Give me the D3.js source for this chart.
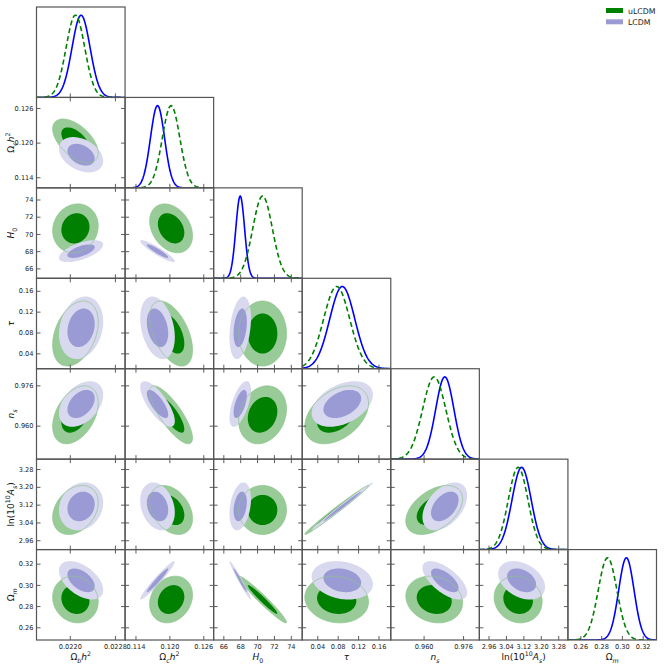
<!DOCTYPE html>
<html><head><meta charset="utf-8">
<script src="https://cdn.jsdelivr.net/npm/d3@7"></script>
<style>body{margin:0;background:#fff} text{font-family:"DejaVu Sans",sans-serif}</style>
</head><body><svg id="c" width="664" height="666"></svg>
<script>
// ---------------- data ----------------
const params = ["omegabh2","omegach2","H0","tau","ns","logA","omegam"];
const axisLabels = [
  [{t:"Ω"},{t:"b",sub:1,it:1},{t:"h",it:1},{t:"2",sup:1}],
  [{t:"Ω"},{t:"c",sub:1,it:1},{t:"h",it:1},{t:"2",sup:1}],
  [{t:"H",it:1},{t:"0",sub:1}],
  [{t:"τ",it:1}],
  [{t:"n",it:1},{t:"s",sub:1,it:1}],
  [{t:"ln(10"},{t:"10",sup:1},{t:"A",it:1},{t:"s",sub:1,it:1},{t:")"}],
  [{t:"Ω"},{t:"m",sub:1,it:1}]
];
const rangeLow  = [0.02141, 0.11216, 64.85, 0.0105, 0.9467, 2.918, 0.2480];
const rangeHigh = [0.02298, 0.12783, 75.35, 0.1840, 0.9826, 3.3245, 0.3333];
const tickValues = [
  [0.0220, 0.0228],
  [0.114, 0.120, 0.126],
  [66, 68, 70, 72, 74],
  [0.04, 0.08, 0.12, 0.16],
  [0.960, 0.976],
  [2.96, 3.04, 3.12, 3.20, 3.28],
  [0.26, 0.28, 0.30, 0.32]
];
const tickFormats = [".4f", ".3f", "d", ".2f", ".3f", ".2f", ".2f"];

const models = ["uLCDM", "LCDM"];
// posterior means and standard deviations
const meanU = [0.02210, 0.1203, 70.65, 0.078, 0.9643, 3.096, 0.2862];
const sdU   = [0.000165, 0.00155, 1.16, 0.0255, 0.0047, 0.045, 0.0090];
const meanL = [0.02220, 0.1179, 68.0, 0.089, 0.9686, 3.112, 0.3043];
const sdL   = [0.00016, 0.00125, 0.52, 0.0245, 0.0037, 0.044, 0.0074];
// correlation coefficients, lower triangle (row i, columns 0..i-1)
const corrU = [
  [],
  [-0.55],
  [0.10, -0.30],
  [0.35, -0.50, 0.00],
  [0.40, -0.80, 0.20, 0.40],
  [0.30, -0.35, 0.00, 0.99, 0.45],
  [-0.10, 0.20, -0.97, -0.10, -0.15, -0.10]
];
const corrL = [
  [],
  [-0.35],
  [0.60, -0.92],
  [0.20, -0.30, 0.30],
  [0.40, -0.75, 0.60, 0.40],
  [0.15, -0.25, 0.30, 0.993, 0.45],
  [-0.50, 0.965, -0.98, -0.20, -0.65, -0.35]
];

(function(){
// ---------------- layout / style ----------------
const n = params.length;
const X0 = 36.5, Y0 = 7, pw = 88.57, ph = 90.43;
const colU = {outer:"#98cb98", inner:"#008000", line:"#008000"};
const colL = {outer:"#d8d8ee", inner:"#9a9ad4", line:"#0000ff"};
const k68 = Math.sqrt(-2*Math.log(0.32)), k95 = Math.sqrt(-2*Math.log(0.05));

const svg = d3.select("#c");
const xS = params.map((p,i)=>d3.scaleLinear().domain([rangeLow[i],rangeHigh[i]]).range([X0+i*pw, X0+(i+1)*pw]));
const yS = params.map((p,i)=>d3.scaleLinear().domain([rangeLow[i],rangeHigh[i]]).range([Y0+(i+1)*ph, Y0+i*ph]));

function ellipse(mx,my,sx,sy,r,k){
  const pts=[];
  for(let a=0;a<360;a+=3){const t=a*Math.PI/180;
    pts.push([mx+k*sx*Math.cos(t), my+k*sy*(r*Math.cos(t)+Math.sqrt(1-r*r)*Math.sin(t))]);}
  return pts;
}
function addLabel(sel, spec, fs){
  let shift=0;
  spec.forEach(s=>{
    const target = s.sub?0.28:(s.sup?-0.42:0);
    sel.append("tspan").text(s.t)
      .attr("font-size",(s.sub||s.sup)?fs*0.7:fs)
      .attr("font-style",s.it?"italic":"normal")
      .attr("dy",((target-shift)*fs)+"px");
    shift=target;
  });
}

const defs = svg.append("defs");
for(let i=0;i<n;i++){
  for(let j=0;j<=i;j++){
    const x0=X0+j*pw, y0=Y0+i*ph;
    const cid="clip"+i+"_"+j;
    defs.append("clipPath").attr("id",cid).append("rect").attr("x",x0).attr("y",y0).attr("width",pw).attr("height",ph);
    const g = svg.append("g");
    const gc = g.append("g").attr("clip-path","url(#"+cid+")");
    const xs = xS[j];
    if(i===j){
      const ys = d3.scaleLinear().domain([0,1.1]).range([y0+ph,y0]);
      const xsamp = d3.range(0,201).map(q=>rangeLow[j]+(rangeHigh[j]-rangeLow[j])*q/200);
      const line = d3.line().x(d=>xs(d[0])).y(d=>ys(d[1]));
      [[meanL,sdL,colL,null],[meanU,sdU,colU,"5,3"]].forEach(([m,s,c,dash])=>{
        const pts = xsamp.map(x=>[x, Math.exp(-0.5*Math.pow((x-m[j])/s[j],2))]);
        gc.append("path").attr("d",line(pts)).attr("fill","none").attr("stroke",c.line)
          .attr("stroke-width",1.6).attr("stroke-dasharray",dash);
      });
    } else {
      const ys = yS[i];
      const line = d3.line().x(d=>xs(d[0])).y(d=>ys(d[1])).curve(d3.curveLinearClosed);
      const draw = (m,s,cr,c)=>{
        const r = cr[i][j];
        gc.append("path").attr("d",line(ellipse(m[j],m[i],s[j],s[i],r,k95))).attr("fill",c.outer);
        gc.append("path").attr("d",line(ellipse(m[j],m[i],s[j],s[i],r,k68))).attr("fill",c.inner);
      };
      draw(meanU,sdU,corrU,colU);
      draw(meanL,sdL,corrL,colL);
      gc.append("path").attr("d",line(ellipse(meanU[j],meanU[i],sdU[j],sdU[i],corrU[i][j],k95)))
        .attr("fill","none").attr("stroke","#8cc48c").attr("stroke-width",0.7);
    }
    const tk = (ax)=>ax.tickSize(4).tickFormat("");
    g.append("g").attr("transform","translate(0,"+(y0+ph)+")").call(tk(d3.axisTop(xs).tickValues(tickValues[j])));
    if(i!==j){
      g.append("g").attr("transform","translate(0,"+y0+")").call(tk(d3.axisBottom(xs).tickValues(tickValues[j])));
      g.append("g").attr("transform","translate("+x0+",0)").call(tk(d3.axisRight(yS[i]).tickValues(tickValues[i])));
      g.append("g").attr("transform","translate("+(x0+pw)+",0)").call(tk(d3.axisLeft(yS[i]).tickValues(tickValues[i])));
    }
    g.selectAll(".domain").remove();
    g.selectAll(".tick line").attr("stroke","#333").attr("stroke-width",0.8);
    g.append("rect").attr("x",x0).attr("y",y0).attr("width",pw).attr("height",ph)
      .attr("fill","none").attr("stroke","#555").attr("stroke-width",1.2);
  }
}
for(let j=0;j<n;j++){
  const ax = svg.append("g").attr("transform","translate(0,"+(Y0+n*ph)+")")
    .call(d3.axisBottom(xS[j]).tickValues(tickValues[j]).tickSize(0).tickPadding(4).tickFormat(d3.format(tickFormats[j])));
  ax.select(".domain").remove();
  ax.selectAll("text").attr("font-size",6.6).attr("fill","#222").attr("font-family","DejaVu Sans");
  const t = svg.append("text").attr("x",X0+(j+0.5)*pw).attr("y",660).attr("text-anchor","middle").attr("fill","#111");
  addLabel(t, axisLabels[j], 9);
}
for(let i=1;i<n;i++){
  const ax = svg.append("g").attr("transform","translate("+X0+",0)")
    .call(d3.axisLeft(yS[i]).tickValues(tickValues[i]).tickSize(0).tickPadding(3).tickFormat(d3.format(tickFormats[i])));
  ax.select(".domain").remove();
  ax.selectAll("text").attr("font-size",6.6).attr("fill","#222").attr("font-family","DejaVu Sans");
  const cy = Y0+(i+0.5)*ph;
  const t = svg.append("text").attr("transform","translate(14,"+cy+") rotate(-90)").attr("text-anchor","middle").attr("fill","#111");
  addLabel(t, axisLabels[i], 9);
}
const leg = svg.append("g");
models.forEach((m,k)=>{
  const c = k===0?colU:colL;
  leg.append("rect").attr("x",606).attr("y",8+k*11.3).attr("width",17).attr("height",5).attr("fill",c.inner);
  leg.append("text").attr("x",628).attr("y",13.5+k*11.3).attr("font-size",7.8).attr("fill","#222").text(m);
});
})();
</script></body></html>
